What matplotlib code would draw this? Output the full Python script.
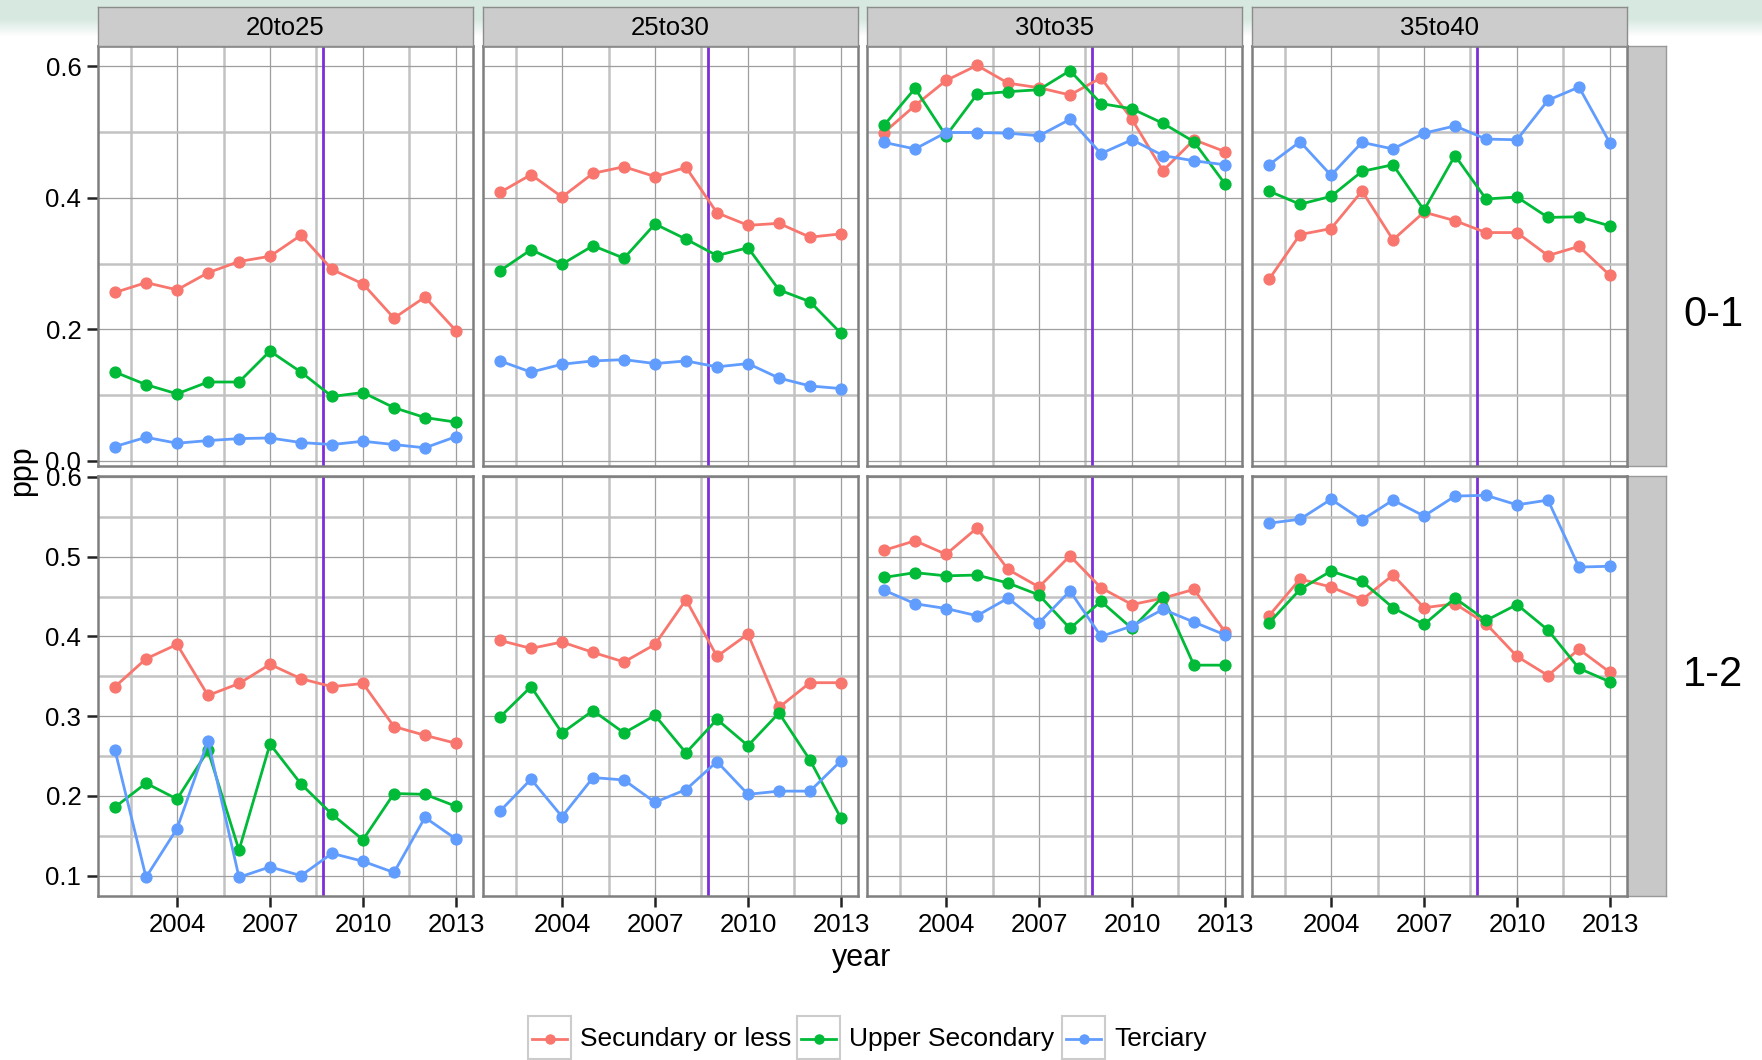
import numpy as np
import matplotlib
matplotlib.use("Agg")
import matplotlib.pyplot as plt
from matplotlib.patches import Rectangle
from matplotlib.ticker import FixedLocator

plt.rcParams['font.family'] = ['Liberation Sans', 'DejaVu Sans']

years = list(range(2002, 2014))
ages = ['20to25', '25to30', '30to35', '35to40']
kids = ['0-1', '1-2']
levels = ['Secundary or less', 'Upper Secondary', 'Terciary']
colors = ['#F8766D', '#00BA38', '#619CFF']
crisis_year = 2008.7

# kids 0-1
sec_01_20to25 = [0.256, 0.271, 0.260, 0.286, 0.303, 0.311, 0.343, 0.291, 0.269, 0.217, 0.249, 0.198]
upp_01_20to25 = [0.135, 0.116, 0.102, 0.120, 0.120, 0.167, 0.135, 0.098, 0.104, 0.081, 0.066, 0.059]
ter_01_20to25 = [0.022, 0.036, 0.027, 0.031, 0.034, 0.035, 0.028, 0.025, 0.030, 0.025, 0.020, 0.037]

sec_01_25to30 = [0.408, 0.435, 0.401, 0.437, 0.447, 0.432, 0.446, 0.377, 0.358, 0.361, 0.340, 0.345]
upp_01_25to30 = [0.289, 0.321, 0.299, 0.327, 0.308, 0.360, 0.337, 0.312, 0.324, 0.260, 0.242, 0.194]
ter_01_25to30 = [0.152, 0.135, 0.147, 0.152, 0.154, 0.148, 0.152, 0.143, 0.148, 0.126, 0.114, 0.110]

sec_01_30to35 = [0.499, 0.540, 0.578, 0.601, 0.574, 0.567, 0.556, 0.582, 0.519, 0.441, 0.488, 0.470]
upp_01_30to35 = [0.510, 0.566, 0.494, 0.557, 0.561, 0.564, 0.593, 0.543, 0.535, 0.513, 0.485, 0.421]
ter_01_30to35 = [0.484, 0.474, 0.499, 0.499, 0.498, 0.494, 0.519, 0.467, 0.488, 0.464, 0.456, 0.450]

sec_01_35to40 = [0.276, 0.344, 0.353, 0.410, 0.336, 0.378, 0.365, 0.347, 0.347, 0.312, 0.326, 0.282]
upp_01_35to40 = [0.410, 0.390, 0.402, 0.440, 0.450, 0.381, 0.464, 0.398, 0.401, 0.370, 0.371, 0.357]
ter_01_35to40 = [0.450, 0.485, 0.434, 0.484, 0.474, 0.498, 0.509, 0.489, 0.488, 0.548, 0.568, 0.483]

# kids 1-2
sec_12_20to25 = [0.337, 0.372, 0.390, 0.326, 0.341, 0.365, 0.347, 0.337, 0.341, 0.287, 0.276, 0.266]
upp_12_20to25 = [0.186, 0.216, 0.196, 0.257, 0.132, 0.265, 0.215, 0.177, 0.145, 0.203, 0.202, 0.187]
ter_12_20to25 = [0.257, 0.098, 0.159, 0.269, 0.098, 0.111, 0.100, 0.128, 0.118, 0.104, 0.173, 0.146]

sec_12_25to30 = [0.395, 0.385, 0.393, 0.380, 0.368, 0.390, 0.446, 0.375, 0.403, 0.311, 0.342, 0.342]
upp_12_25to30 = [0.299, 0.337, 0.279, 0.307, 0.279, 0.301, 0.254, 0.296, 0.263, 0.304, 0.245, 0.172]
ter_12_25to30 = [0.181, 0.221, 0.174, 0.223, 0.220, 0.192, 0.208, 0.243, 0.202, 0.206, 0.206, 0.244]

sec_12_30to35 = [0.508, 0.520, 0.503, 0.536, 0.484, 0.462, 0.501, 0.461, 0.440, 0.448, 0.459, 0.406]
upp_12_30to35 = [0.474, 0.480, 0.476, 0.477, 0.467, 0.452, 0.410, 0.444, 0.410, 0.450, 0.364, 0.364]
ter_12_30to35 = [0.458, 0.441, 0.435, 0.426, 0.448, 0.417, 0.457, 0.400, 0.413, 0.434, 0.418, 0.402]

sec_12_35to40 = [0.426, 0.472, 0.462, 0.446, 0.477, 0.436, 0.441, 0.416, 0.375, 0.351, 0.384, 0.355]
upp_12_35to40 = [0.417, 0.459, 0.482, 0.469, 0.436, 0.415, 0.448, 0.420, 0.440, 0.408, 0.360, 0.343]
ter_12_35to40 = [0.542, 0.547, 0.572, 0.546, 0.571, 0.551, 0.576, 0.577, 0.565, 0.571, 0.487, 0.488]

series = {
    ('0-1', '20to25'): [sec_01_20to25, upp_01_20to25, ter_01_20to25],
    ('0-1', '25to30'): [sec_01_25to30, upp_01_25to30, ter_01_25to30],
    ('0-1', '30to35'): [sec_01_30to35, upp_01_30to35, ter_01_30to35],
    ('0-1', '35to40'): [sec_01_35to40, upp_01_35to40, ter_01_35to40],
    ('1-2', '20to25'): [sec_12_20to25, upp_12_20to25, ter_12_20to25],
    ('1-2', '25to30'): [sec_12_25to30, upp_12_25to30, ter_12_25to30],
    ('1-2', '30to35'): [sec_12_30to35, upp_12_30to35, ter_12_30to35],
    ('1-2', '35to40'): [sec_12_35to40, upp_12_35to40, ter_12_35to40],
}

# per-row y scales (free y by row)
row_ylim = {'0-1': (-0.0076, 0.6304), '1-2': (0.0745, 0.6012)}
row_major = {'0-1': [0.0, 0.2, 0.4, 0.6], '1-2': [0.1, 0.2, 0.3, 0.4, 0.5, 0.6]}
row_minor = {'0-1': [0.1, 0.3, 0.5], '1-2': [0.15, 0.25, 0.35, 0.45, 0.55]}
x_major = [2004, 2007, 2010, 2013]
x_minor = [2002.5, 2005.5, 2008.5, 2011.5]

W, H = 1762, 1060
fig = plt.figure(figsize=(W / 100, H / 100), dpi=100)


def px_axes(x0, y0, x1, y1, **kw):
    return fig.add_axes([x0 / W, 1 - y1 / H, (x1 - x0) / W, (y1 - y0) / H], **kw)


def px_text(x, y, s, **kw):
    fig.text(x / W, 1 - y / H, s, **kw)


# faint mint band along the top of the page
bg = px_axes(0, 0, W, H, zorder=-10)
bg.axis('off')
yy = np.arange(H)
alpha = np.clip((36 - yy) / 18.0, 0, 1)
band = np.zeros((H, 1, 4))
band[:, 0, :3] = (0.84, 0.91, 0.88)
band[:, 0, 3] = alpha
bg.imshow(band, extent=(0, W, H, 0), aspect='auto')
bg.set_xlim(0, W)
bg.set_ylim(H, 0)

col_left = [98, 483, 867, 1252]
panel_w = 375
row_top = {'0-1': 46, '1-2': 476}
panel_h = 420

for r, kid in enumerate(kids):
    for c, age in enumerate(ages):
        x0 = col_left[c]
        y0 = row_top[kid]
        ax = px_axes(x0, y0, x0 + panel_w, y0 + panel_h)
        ax.set_facecolor('white')
        ax.set_xlim(2001.45, 2013.55)
        ax.set_ylim(*row_ylim[kid])
        ax.xaxis.set_major_locator(FixedLocator(x_major))
        ax.xaxis.set_minor_locator(FixedLocator(x_minor))
        ax.yaxis.set_major_locator(FixedLocator(row_major[kid]))
        ax.yaxis.set_minor_locator(FixedLocator(row_minor[kid]))
        ax.grid(which='minor', color='#C2C2C2', lw=1.8, zorder=0)
        ax.grid(which='major', color='#9E9E9E', lw=0.9, zorder=0)
        ax.set_axisbelow(True)
        for sp in ax.spines.values():
            sp.set_color('#7F7F7F')
            sp.set_linewidth(1.8)
        ax.tick_params(which='minor', length=0)
        ax.tick_params(which='major', length=8, width=1.8, color='#222222',
                       labelsize=18.5, pad=4)
        if c == 0:
            ax.set_yticklabels(['%.1f' % v for v in row_major[kid]])
        else:
            ax.tick_params(axis='y', which='major', length=0, labelleft=False)
        if r == 1:
            ax.set_xticklabels([str(v) for v in x_major])
        else:
            ax.tick_params(axis='x', which='major', length=0, labelbottom=False)

        ax.axvline(crisis_year, color='#7D2ED8', lw=2.0, zorder=2)
        for vals, col in zip(series[(kid, age)], colors):
            ax.plot(years, vals, color=col, lw=2.0, marker='o', ms=7.8,
                    zorder=3, clip_on=False)

        # top strips
        if r == 0:
            st = px_axes(x0, 7, x0 + panel_w, 46)
            st.set_facecolor('#CCCCCC')
            st.set_xticks([])
            st.set_yticks([])
            for sp in st.spines.values():
                sp.set_color('#8C8C8C')
                sp.set_linewidth(1.0)
            st.text(0.5, 0.47, age, transform=st.transAxes, ha='center',
                    va='center', fontsize=18.5)

    # right strip, label set beside it
    rs = px_axes(1627, row_top[kid], 1666, row_top[kid] + panel_h, zorder=-1)
    rs.set_facecolor('#C8C8C8')
    rs.set_xticks([])
    rs.set_yticks([])
    for sp in rs.spines.values():
        sp.set_color('#999999')
        sp.set_linewidth(1.0)

px_text(1713, 315, '0-1', fontsize=30, ha='center', va='center')
px_text(1713, 675, '1-2', fontsize=30, ha='center', va='center')

px_text(862, 958, 'year', fontsize=22, ha='center', va='center')
px_text(22, 471, 'ppp', fontsize=22, ha='center', va='center', rotation=90)

# legend along the bottom
lg = px_axes(0, 0, W, H, zorder=5)
lg.axis('off')
lg.set_xlim(0, W)
lg.set_ylim(H, 0)
key_left = [528, 797, 1062]
for kx, lab, col in zip(key_left, levels, colors):
    lg.add_patch(Rectangle((kx, 1016), 43, 43, facecolor='white',
                           edgecolor='#CCCCCC', lw=1.5))
    lg.plot([kx + 4, kx + 39], [1039, 1039], color=col, lw=2.0)
    lg.plot([kx + 21.5], [1039], color=col, marker='o', ms=6.5)
    lg.text(kx + 52, 1039, lab, fontsize=19, ha='left', va='center')

fig.savefig('out.png', dpi=100)
